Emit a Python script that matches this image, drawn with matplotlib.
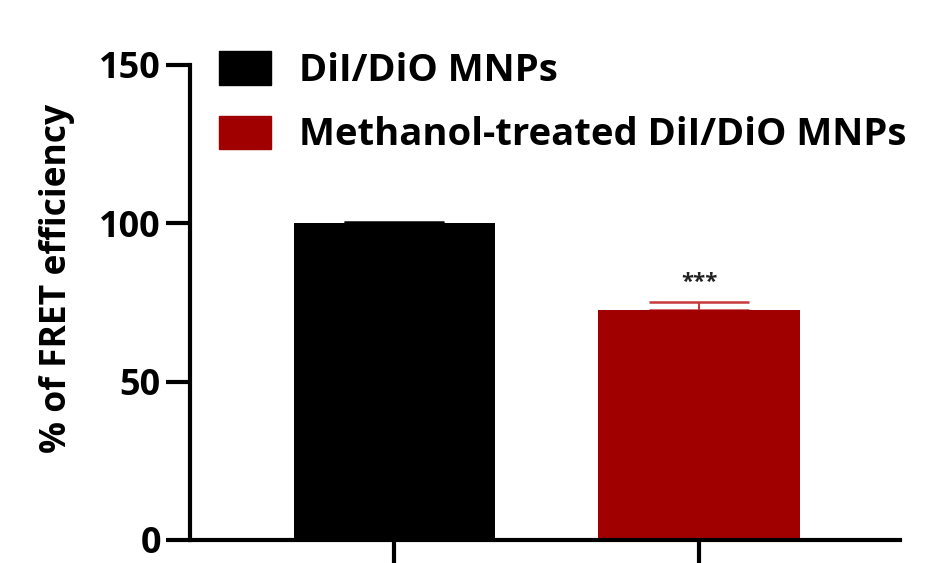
import matplotlib
matplotlib.use("Agg")
import matplotlib.pyplot as plt
from matplotlib.patches import Patch

# data
groups = ["DiI/DiO MNPs", "Methanol-treated DiI/DiO MNPs"]
means = [100.0, 72.5]
errors = [0.5, 2.5]
colors = ["#000000", "#a00000"]
err_colors = ["#000000", "#c8393f"]
sig_label = "***"

plt.rcParams["font.family"] = ["Open Sans", "DejaVu Sans"]
plt.rcParams["font.weight"] = "bold"

fig = plt.figure(figsize=(9.31, 5.63), dpi=100)
ax = fig.add_axes([0.204, 0.041, 0.763, 0.844])

x = list(range(len(groups)))
for i in x:
    ax.bar(i, means[i], width=0.66, color=colors[i], zorder=2)
    ax.errorbar(i, means[i], yerr=[[0], [errors[i]]], fmt="none",
                ecolor=err_colors[i], elinewidth=1.5, capsize=36, capthick=1.8, zorder=1)

ax.text(1, means[1] + errors[1] + 3, sig_label, ha="center", va="bottom",
        fontsize=16, color="#222222")

ax.set_xlim(-0.67, 1.66)
ax.set_ylim(0, 150)
ax.set_yticks([0, 50, 100, 150])
ax.set_xticks(x)
ax.set_xticklabels([])
ax.spines["top"].set_visible(False)
ax.spines["right"].set_visible(False)
for s in ["left", "bottom"]:
    ax.spines[s].set_linewidth(3)
ax.tick_params(axis="y", length=17, width=3, labelsize=26, pad=4)
ax.tick_params(axis="x", length=17, width=3)
for lab in ax.get_yticklabels():
    lab.set_fontweight("bold")
ax.set_ylabel("% of FRET efficiency", fontsize=25.5, fontweight="bold")
ax.yaxis.set_label_coords(-0.162, 0.55)

handles = [Patch(facecolor=c, edgecolor=c) for c in colors]
leg = fig.legend(handles, groups, loc="upper left",
                 bbox_to_anchor=(219 / 931, 1 - 51 / 563),
                 frameon=False, borderpad=0, borderaxespad=0,
                 handlelength=1.35, handleheight=0.98,
                 handletextpad=0.75, labelspacing=0.67,
                 prop={"weight": "bold", "size": 27.5})

fig.savefig("out.png", dpi=100)
